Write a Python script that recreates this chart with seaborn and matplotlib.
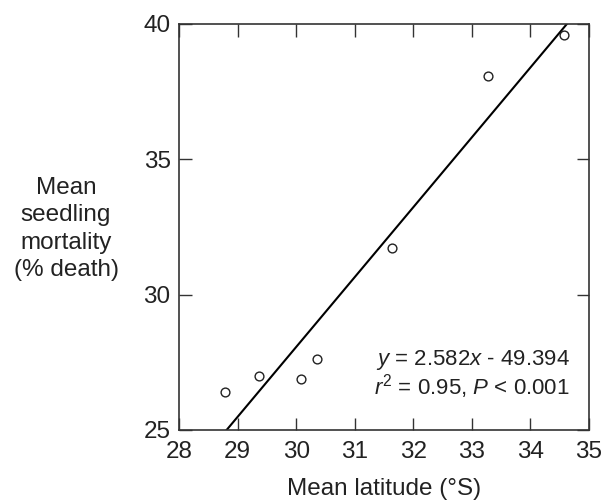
import matplotlib
matplotlib.use("Agg")
import matplotlib.pyplot as plt
import seaborn as sns
import numpy as np
import pandas as pd

latitude = [28.79, 29.36, 30.08, 30.35, 31.64, 33.28, 34.57]
mortality = [26.39, 27.01, 26.90, 27.61, 31.71, 38.09, 39.61]
slope = 2.582
intercept = -49.394
x_ticks = [28, 29, 30, 31, 32, 33, 34, 35]
y_ticks = [25, 30, 35, 40]

sns.set_theme(style="white")
plt.rcParams['font.family'] = ['Liberation Sans', 'DejaVu Sans']
plt.rcParams['mathtext.fontset'] = 'custom'
plt.rcParams['mathtext.it'] = 'Liberation Sans:italic'
plt.rcParams['mathtext.rm'] = 'Liberation Sans'

fig = plt.figure(figsize=(6.03, 5.04), dpi=100)
ax = fig.add_axes([179/603, 1-430/504, 410/603, 406/504])

df = pd.DataFrame({"lat": latitude, "mort": mortality})
fit_x = np.array([x_ticks[0], x_ticks[-1]], dtype=float)
fit = pd.DataFrame({"lat": fit_x, "mort": slope * fit_x + intercept})

sns.lineplot(data=fit, x="lat", y="mort", ax=ax, color="black", linewidth=1.5)
sns.scatterplot(data=df, x="lat", y="mort", ax=ax, marker="o", s=40,
                facecolor="white", edgecolor="#222222", linewidth=1.0, zorder=3)

ax.set_xlim(28, 35)
ax.set_ylim(25, 40)
ax.set_xticks(x_ticks)
ax.set_yticks(y_ticks)
ax.tick_params(direction="in", length=9, width=1.0, color="#333333",
               top=True, right=True, bottom=True, left=True,
               labelsize=17.5, labelcolor="#222222")
ax.tick_params(axis="x", pad=8)
ax.tick_params(axis="y", pad=6)
for s in ax.spines.values():
    s.set_visible(True)
    s.set_color("#333333")
    s.set_linewidth(1.2)

ax.set_xlabel("Mean latitude (°S)", fontsize=17.5, color="#222222", labelpad=11)
ax.set_ylabel("")
fig.text(66/603, 1-229/504, "Mean\nseedling\nmortality\n(% death)", ha="center", va="center",
         fontsize=17.5, color="#222222", linespacing=1.3)

ax.text(0.954, 0.160, "$y$ = 2.582$x$ - 49.394", transform=ax.transAxes,
        ha="right", va="baseline", fontsize=16, color="#222222")
ax.text(0.954, 0.087, "$r^2$ = 0.95, $P$ < 0.001", transform=ax.transAxes,
        ha="right", va="baseline", fontsize=16, color="#222222")

fig.savefig("out.png", dpi=100)
